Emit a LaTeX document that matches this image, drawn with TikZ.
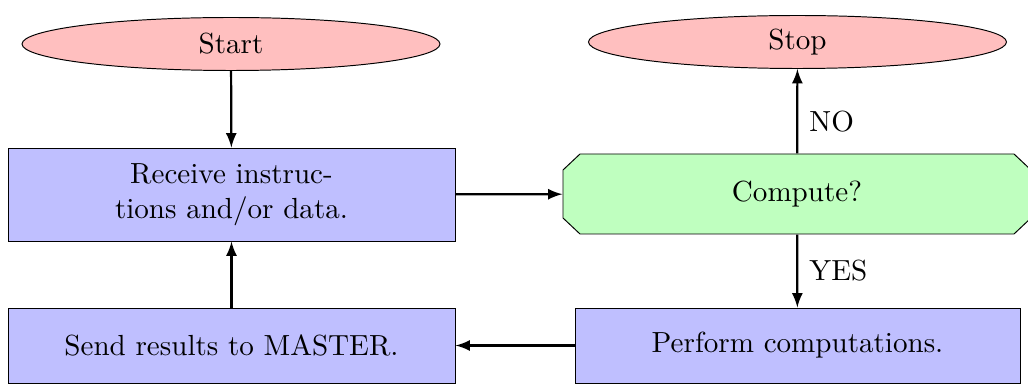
\documentclass[tikz,border=0pt]{standalone}
\usetikzlibrary{shapes.geometric,arrows}
\begin{document}
\begin{tikzpicture}[x=0.36pt,y=-0.36pt,
  every node/.style={font=\fontsize{10.47pt}{12.7pt}\selectfont},
  term/.style={ellipse,draw,line width=0.35pt,fill=red!25,minimum width=418*0.36pt,minimum height=53*0.36pt,inner sep=0pt},
  proc/.style={rectangle,draw,line width=0.35pt,fill=blue!25,inner sep=0pt,align=center},
  conn/.style={->,>=latex,thick},
  lbl/.style={anchor=west,inner sep=0pt}]
\useasboundingbox (0,0) rectangle (1028,385);
\node[term] (start) at (231,44) {Start};
\node[term] (stop) at (797.5,42) {Stop};
\node[proc,minimum width=447*0.36pt,minimum height=93*0.36pt] (recv) at (231.5,194.5) {Receive instruc-\\tions and/or data.};
\node[proc,minimum width=447*0.36pt,minimum height=75*0.36pt] (send) at (231.5,345.5) {Send results to MASTER.};
\node[proc,minimum width=445*0.36pt,minimum height=75*0.36pt] (perf) at (797.5,345.5) {Perform computations.};
\draw[fill=green!25,line width=0.35pt] (580,154) -- (1014,154) -- (1031,170) -- (1031,218) -- (1014,234) -- (580,234) -- (563,218) -- (563,170) -- cycle;
\node[rectangle,minimum width=468*0.36pt,minimum height=80*0.36pt,inner sep=0pt] (comp) at (797,194) {Compute?};
\draw[conn] (start) -- (recv);
\draw[conn] (recv) -- (comp);
\draw[conn] (comp) -- node[lbl,pos=0.38,xshift=4pt] {NO} (stop);
\draw[conn] (comp) -- node[lbl,xshift=4pt] {YES} (perf);
\draw[conn] (perf) -- (send);
\draw[conn] (send) -- (recv);
\end{tikzpicture}
\end{document}
